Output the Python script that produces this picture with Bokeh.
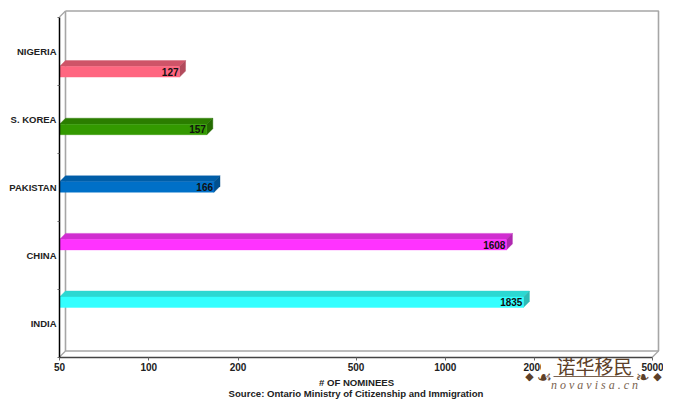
from bokeh.plotting import figure
from bokeh.models import FixedTicker, ColumnDataSource, Label
from bokeh.core.properties import value
from bokeh.embed import file_html
from bokeh.resources import INLINE

# ---- data ----
countries = ["INDIA", "CHINA", "PAKISTAN", "S. KOREA", "NIGERIA"]
nominees = [1835, 1608, 166, 157, 127]
x_ticks = [50, 100, 200, 500, 1000, 2000, 5000]
front_colors = ["#33ffff", "#ff33ff", "#0070c8", "#339900", "#ff6680"]
top_colors = ["#2cd8d2", "#d02ed0", "#005ea8", "#2b7d00", "#cf5468"]
side_colors = ["#2cbcb6", "#b028b0", "#00508f", "#246b00", "#b24a5c"]
x_title = "# OF NOMINEES"
source_note = "Source: Ontario Ministry of Citizenship and Immigration"

FONT = "Liberation Sans"
W, H = 676, 404
X_MIN, X_MAX = 50, 5000
PLOT_LEFT_PX, PLOT_BOTTOM_PX = 59.0, 356.5      # where the front axes cross, from the page's top-left
PX_PER_BAND = 68
PX_PER_DECADE = 296.5
DEPTH_PX = 6
DX = 10 ** (DEPTH_PX / PX_PER_DECADE)   # depth as a multiplicative step on the log axis
DY = DEPTH_PX / PX_PER_BAND
BAR_BASE = 49.5 / PX_PER_BAND
BAR_STEP = 57.6 / PX_PER_BAND
BAR_H = 10.5 / PX_PER_BAND
N = len(countries)

def page_x(px):
    return X_MIN * 10 ** ((px - PLOT_LEFT_PX) / PX_PER_DECADE)

def page_y(py):
    return (PLOT_BOTTOM_PX - py) / PX_PER_BAND

# the frame fills the page so that the source note and watermark can sit beside the axes
p = figure(width=W, height=H, output_backend="svg", toolbar_location=None,
           x_axis_type="log",
           x_range=(page_x(0), page_x(W)),
           y_range=(page_y(H), page_y(0)),
           frame_width=W, frame_height=H,
           min_border_left=0, min_border_top=0, min_border_right=0, min_border_bottom=0,
           outline_line_color=None)
p.grid.visible = False
p.background_fill_color = "white"

# back wall and floor edges
wall = "#a6a6a6"
p.line([X_MIN * DX, X_MAX * DX, X_MAX * DX, X_MIN * DX, X_MIN * DX],
       [N + DY, N + DY, DY, DY, N + DY], line_color=wall, line_width=1.6)
p.multi_line([[X_MIN, X_MIN * DX], [X_MIN, X_MIN * DX], [X_MAX, X_MAX * DX]],
             [[N, N + DY], [0, DY], [0, DY]], line_color=wall, line_width=1.2)

# 3D bars
bases = [BAR_BASE + i * BAR_STEP for i in range(N)]
src = ColumnDataSource(dict(
    left=[X_MIN] * N, right=nominees,
    bottom=bases, top=[b + BAR_H for b in bases],
    color=front_colors,
    mid=[b + BAR_H / 2 for b in bases],
    label=[str(v) for v in nominees]))
p.patches([[X_MIN, X_MIN * DX, v * DX, v] for v in nominees],
          [[b + BAR_H, b + BAR_H + DY, b + BAR_H + DY, b + BAR_H] for b in bases],
          fill_color=top_colors, line_color=top_colors, line_alpha=0.4)
p.patches([[v, v * DX, v * DX, v] for v in nominees],
          [[b, b + DY, b + BAR_H + DY, b + BAR_H] for b in bases],
          fill_color=side_colors, line_color=side_colors, line_alpha=0.4)
p.quad(left="left", right="right", bottom="bottom", top="top", source=src,
       fill_color="color", line_color="color", line_alpha=0.4)
p.text(x="right", y="mid", text="label", source=src, text_align="right", text_baseline="middle",
       x_offset=-1, y_offset=0, text_font=value(FONT), text_font_size="10px",
       text_font_style="bold", text_color="#111111")

# x axis
xa = p.xaxis[0]
xa.fixed_location = 0
xa.ticker = FixedTicker(ticks=x_ticks)
xa.major_label_overrides = {v: str(v) for v in x_ticks}
xa.bounds = (X_MIN, X_MAX)
xa.axis_line_color = "#444444"
xa.axis_line_width = 1.5
xa.major_tick_line_color = "#666666"
xa.major_tick_in = 0
xa.major_tick_out = 3
xa.minor_tick_out = 0
xa.minor_tick_in = 0
xa.major_label_standoff = 3
xa.major_label_text_font = FONT
xa.major_label_text_font_size = "10px"
xa.major_label_text_font_style = "bold"
xa.major_label_text_color = "#222222"

# y axis: category names centred in the bands, ticks on band edges
ya = p.yaxis[0]
ya.fixed_location = X_MIN
centers = [i + 0.5 for i in range(N)]
ya.ticker = FixedTicker(ticks=centers, minor_ticks=list(range(N + 1)))
ya.major_label_overrides = {c: name for c, name in zip(centers, countries)}
ya.bounds = (0, N)
ya.axis_line_color = "black"
ya.axis_line_width = 1.5
ya.major_tick_in = 0
ya.major_tick_out = 0
ya.minor_tick_in = 0
ya.minor_tick_out = 2
ya.minor_tick_line_color = "#666666"
ya.major_label_standoff = 1
ya.major_label_text_font = FONT
ya.major_label_text_font_size = "9.5px"
ya.major_label_text_font_style = "bold"
ya.major_label_text_color = "#222222"

# free text, placed in page pixels from the top-left
def note(px, py, text, font, size, color, style="normal", bg=None):
    p.add_layout(Label(x=px, y=H - py, x_units="screen", y_units="screen", text=text, text_font=font,
                       text_font_size=size, text_color=color, text_font_style=style,
                       text_baseline="middle", background_fill_color=bg, text_align="center"))

note(356, 382, x_title, FONT, "9.6px", "#222222", "bold")
note(355.5, 393, source_note, FONT, "9.6px", "#222222", "bold")

BROWN, TAN = "#5d4028", "#7a6350"
note(546, 366, "\u2003", "DejaVu Sans", "11px", BROWN, bg="white")
note(668, 366, "\u2003", "DejaVu Sans", "11px", BROWN, bg="white")
p.line([page_x(553), page_x(633)], [page_y(376), page_y(376)], line_color=TAN, line_width=1.2)
note(594, 365, "诺华移民", "Noto Sans CJK SC", "19px", BROWN)
note(529, 376, "◆", "DejaVu Sans", "11px", BROWN)
note(657, 376, "◆", "DejaVu Sans", "11px", BROWN)
note(544, 376, "☙", "DejaVu Sans", "17px", BROWN)
note(642, 376, "❧", "DejaVu Sans", "17px", BROWN)
note(594, 384.5, "n o v a v i s a . c n", "Liberation Serif", "12px", TAN, "italic")

open("out.html", "w").write(file_html(p, INLINE))
